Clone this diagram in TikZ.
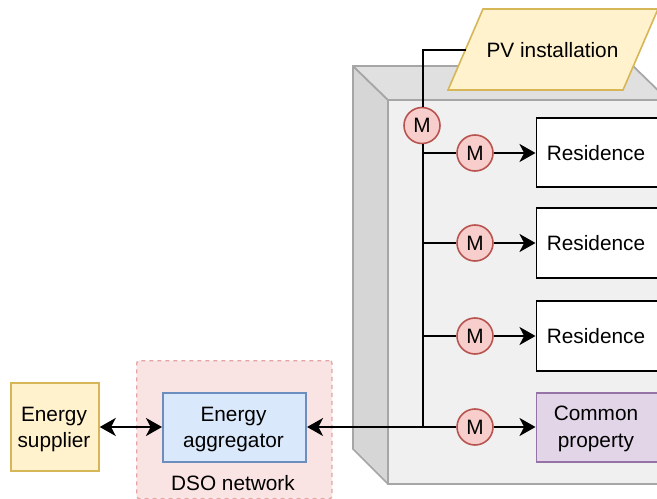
\documentclass[tikz,border=0pt]{standalone}
\usepackage{fontspec}
\setmainfont{Liberation Sans}
\usetikzlibrary{arrows.meta}
\tikzset{
  x=0.75pt,y=-0.75pt,
  txt/.style={font=\fontsize{15.6pt}{20.2pt}\selectfont,align=center,text=black,inner sep=0pt},
  boxn/.style={txt,draw,line width=1.3pt,minimum height=52pt,anchor=west},
  meter/.style={circle,draw=mred,fill=mredf,line width=1.2pt,minimum size=27pt,inner sep=0pt,font=\fontsize{15.6pt}{18pt}\selectfont},
  wire/.style={line width=1.6pt,black},
  thickwire/.style={line width=2pt,black},
  arr/.style={line width=1.6pt,black,-{Stealth[length=12pt,width=13.5pt,inset=3.5pt]}},
  biarr/.style={line width=1.6pt,black,{Stealth[length=12pt,width=13.5pt,inset=3.5pt]}-{Stealth[length=12pt,width=13.5pt,inset=3.5pt]}}
}
\definecolor{mred}{HTML}{B85450}
\definecolor{mredf}{HTML}{F8CECC}
\definecolor{yelf}{HTML}{FFF2CC}
\definecolor{yeld}{HTML}{D6B656}
\definecolor{bluf}{HTML}{DAE8FC}
\definecolor{blud}{HTML}{6C8EBF}
\definecolor{purf}{HTML}{E1D5E7}
\definecolor{purd}{HTML}{9673A6}
\definecolor{dsof}{HTML}{FAE3E3}
\definecolor{dsod}{HTML}{E5A5A5}
\begin{document}
\begin{tikzpicture}
\useasboundingbox (0,0) rectangle (657,499);
\clip (0,0) rectangle (657,499);
\fill[fill=white] (0,0) rectangle (657,499);
% cube
\draw[line width=1.3pt,line join=round,draw=black!35,fill=black!16] (353,66) -- (388,100) -- (388,484) -- (353,449) -- cycle;
\draw[line width=1.3pt,line join=round,draw=black!35,fill=black!12] (353,66) -- (633,66) -- (668,100) -- (388,100) -- cycle;
\draw[line width=1.3pt,draw=black!35,fill=black!6] (388,100) rectangle (680,484);
% DSO
\node[draw=dsod,fill=dsof,dashed,line width=1pt,rounded corners=2pt,minimum width=146.5pt,minimum height=103.5pt,anchor=north west] (dso) at (136,360) {};
\node[txt] (dsolabel) at (233,483) {DSO network};
% boxes
\node[draw=yeld,fill=yelf,line width=1.3pt,minimum width=66pt,minimum height=66pt,anchor=west] (sup) at (10,427) {};
\node[txt] (suptext) at (54,429.5) {Energy\\supplier};
\node[draw=blud,fill=bluf,boxn,minimum width=107.5pt] (agg) at (162,427.5) {};
\node[txt] (aggtext) at (233.5,429.5) {Energy\\aggregator};
\coordinate (junc) at (423,427);
\coordinate (corner) at (423,50);
% PV
\coordinate (pv1) at (483,9); \coordinate (pv2) at (658,9); \coordinate (pv3) at (623,90); \coordinate (pv4) at (448,90);
\draw[draw=yeld,fill=yelf,line width=1.2pt] (pv1) -- (pv2) -- (pv3) -- (pv4) -- cycle;
\node[txt] (pv) at (552.5,50) {PV installation};
\coordinate (pvleft) at (466,50);
\node[draw=black,fill=white,boxn,minimum width=93pt] (r1) at (535.5,152.5) {};
\node[draw=black,fill=white,boxn,minimum width=93pt] (r2) at (535.5,243) {};
\node[draw=black,fill=white,boxn,minimum width=93pt] (r3) at (535.5,336) {};
\node[draw=purd,fill=purf,boxn,minimum width=93pt] (cp) at (535.5,427.5) {};
\node[txt] (r1text) at (596,153) {Residence};
\node[txt] (r2text) at (596,243) {Residence};
\node[txt] (r3text) at (596,336) {Residence};
\node[txt] (cptext) at (596,429) {Common\\property};
% meters
\node[meter] (m0) at (422,125.5) {M};
\node[meter] (m1) at (475,153) {M};
\node[meter] (m2) at (475,243) {M};
\node[meter] (m3) at (475,336) {M};
\node[meter] (m4) at (475,427) {M};
% wires
\draw[thickwire] (pvleft) -- (corner) -- (m0.north -| corner);
\draw[wire] (m0.south -| corner) -- (junc);
\draw[wire] (corner |- m1) -- (m1.west);
\draw[wire] (corner |- m2) -- (m2.west);
\draw[wire] (corner |- m3) -- (m3.west);
\draw[thickwire] (junc) -- (m4.west);
\draw[arr] (m1.east) -- (m1.east -| r1.west);
\draw[arr] (m2.east) -- (m2.east -| r2.west);
\draw[arr] (m3.east) -- (m3.east -| r3.west);
\draw[arr] (m4.east) -- (m4.east -| cp.west);
\draw[arr] (junc) -- (junc -| agg.east);
\draw[biarr] (sup.east) -- (sup.east -| agg.west);
\end{tikzpicture}
\end{document}
